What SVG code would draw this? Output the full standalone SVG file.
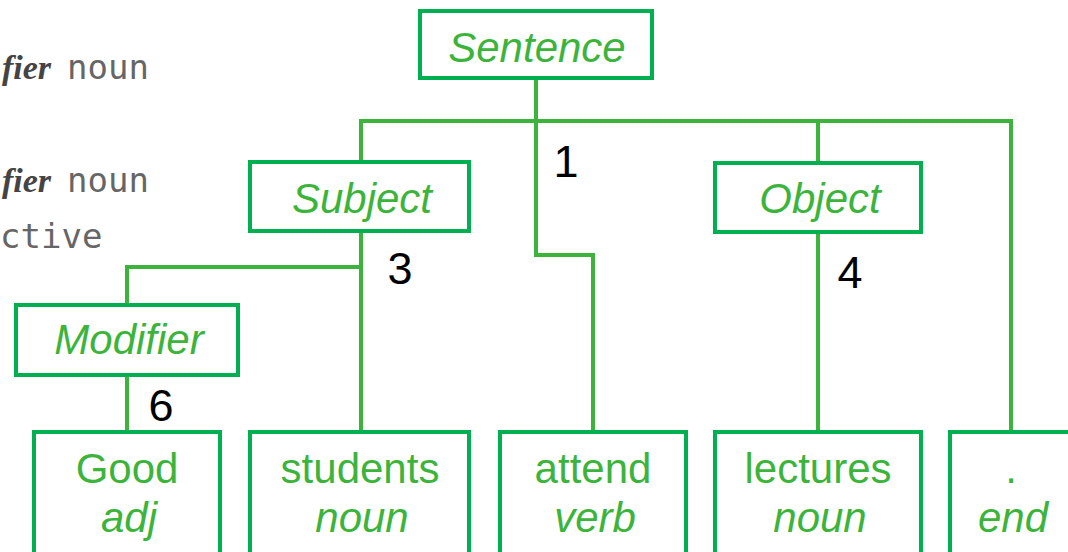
<svg xmlns="http://www.w3.org/2000/svg" width="1068" height="552" viewBox="0 0 1068 552">
<style>
.box{fill:#ffffff;stroke:#00b050;stroke-width:4}
.lbl{font-family:"Liberation Sans",Arial,sans-serif;font-size:42px;fill:#3cb43c;text-anchor:middle}
.it{font-style:italic}
.num{font-family:"Liberation Sans",Arial,sans-serif;font-size:45px;fill:#000000;text-anchor:middle}
.conn{fill:none;stroke:#3cb43c;stroke-width:4;stroke-linejoin:miter}
.ser{font-family:"Liberation Serif","Times New Roman",serif;font-style:italic;font-weight:bold;font-size:34px;fill:#444444}
.mono{font-family:"DejaVu Sans Mono","Liberation Mono",monospace;font-size:34px;fill:#666666}
</style>
<rect width="1068" height="552" fill="#ffffff"/>
<g id="background-text">
<text x="2" y="79"><tspan class="ser">fier</tspan><tspan class="mono" dx="16">noun</tspan></text>
<text x="2" y="192"><tspan class="ser">fier</tspan><tspan class="mono" dx="16">noun</tspan></text>
<text x="0" y="248" class="mono">ctive</text>
</g>
<g id="connectors">
<path class="conn" d="M536 80 V255 H593 V431"/>
<path class="conn" d="M361 160 V121 H1011 V431"/>
<path class="conn" d="M818 121 V162"/>
<path class="conn" d="M818 233 V431"/>
<path class="conn" d="M361 232 V431"/>
<path class="conn" d="M361 267 H127 V304"/>
<path class="conn" d="M127 376 V431"/>
</g>
<g id="edge-labels">
<text class="num" x="566" y="177">1</text>
<text class="num" x="400" y="284">3</text>
<text class="num" x="850" y="288">4</text>
<text class="num" x="161" y="421">6</text>
</g>
<g id="sentence"><rect class="box" x="420" y="11" width="232" height="67"/><text class="lbl it" x="537" y="62">Sentence</text></g>
<g id="subject"><rect class="box" x="250" y="162" width="219" height="69"/><text class="lbl it" x="362" y="213">Subject</text></g>
<g id="object"><rect class="box" x="715" y="163" width="206" height="69"/><text class="lbl it" x="820" y="213">Object</text></g>
<g id="modifier"><rect class="box" x="16" y="305" width="222" height="70"/><text class="lbl it" x="129" y="354">Modifier</text></g>
<g id="good"><rect class="box" x="34" y="432" width="186" height="140"/><text class="lbl" x="127" y="483">Good</text><text class="lbl it" x="129" y="532">adj</text></g>
<g id="students"><rect class="box" x="250" y="432" width="219" height="140"/><text class="lbl" x="360" y="483">students</text><text class="lbl it" x="362" y="532">noun</text></g>
<g id="attend"><rect class="box" x="500" y="432" width="186" height="140"/><text class="lbl" x="593" y="483">attend</text><text class="lbl it" x="595" y="532">verb</text></g>
<g id="lectures"><rect class="box" x="715" y="432" width="206" height="140"/><text class="lbl" x="818" y="483">lectures</text><text class="lbl it" x="820" y="532">noun</text></g>
<g id="end"><rect class="box" x="950" y="432" width="124" height="140"/><text class="lbl" x="1011" y="483">.</text><text class="lbl it" x="1013" y="532">end</text></g>
</svg>
